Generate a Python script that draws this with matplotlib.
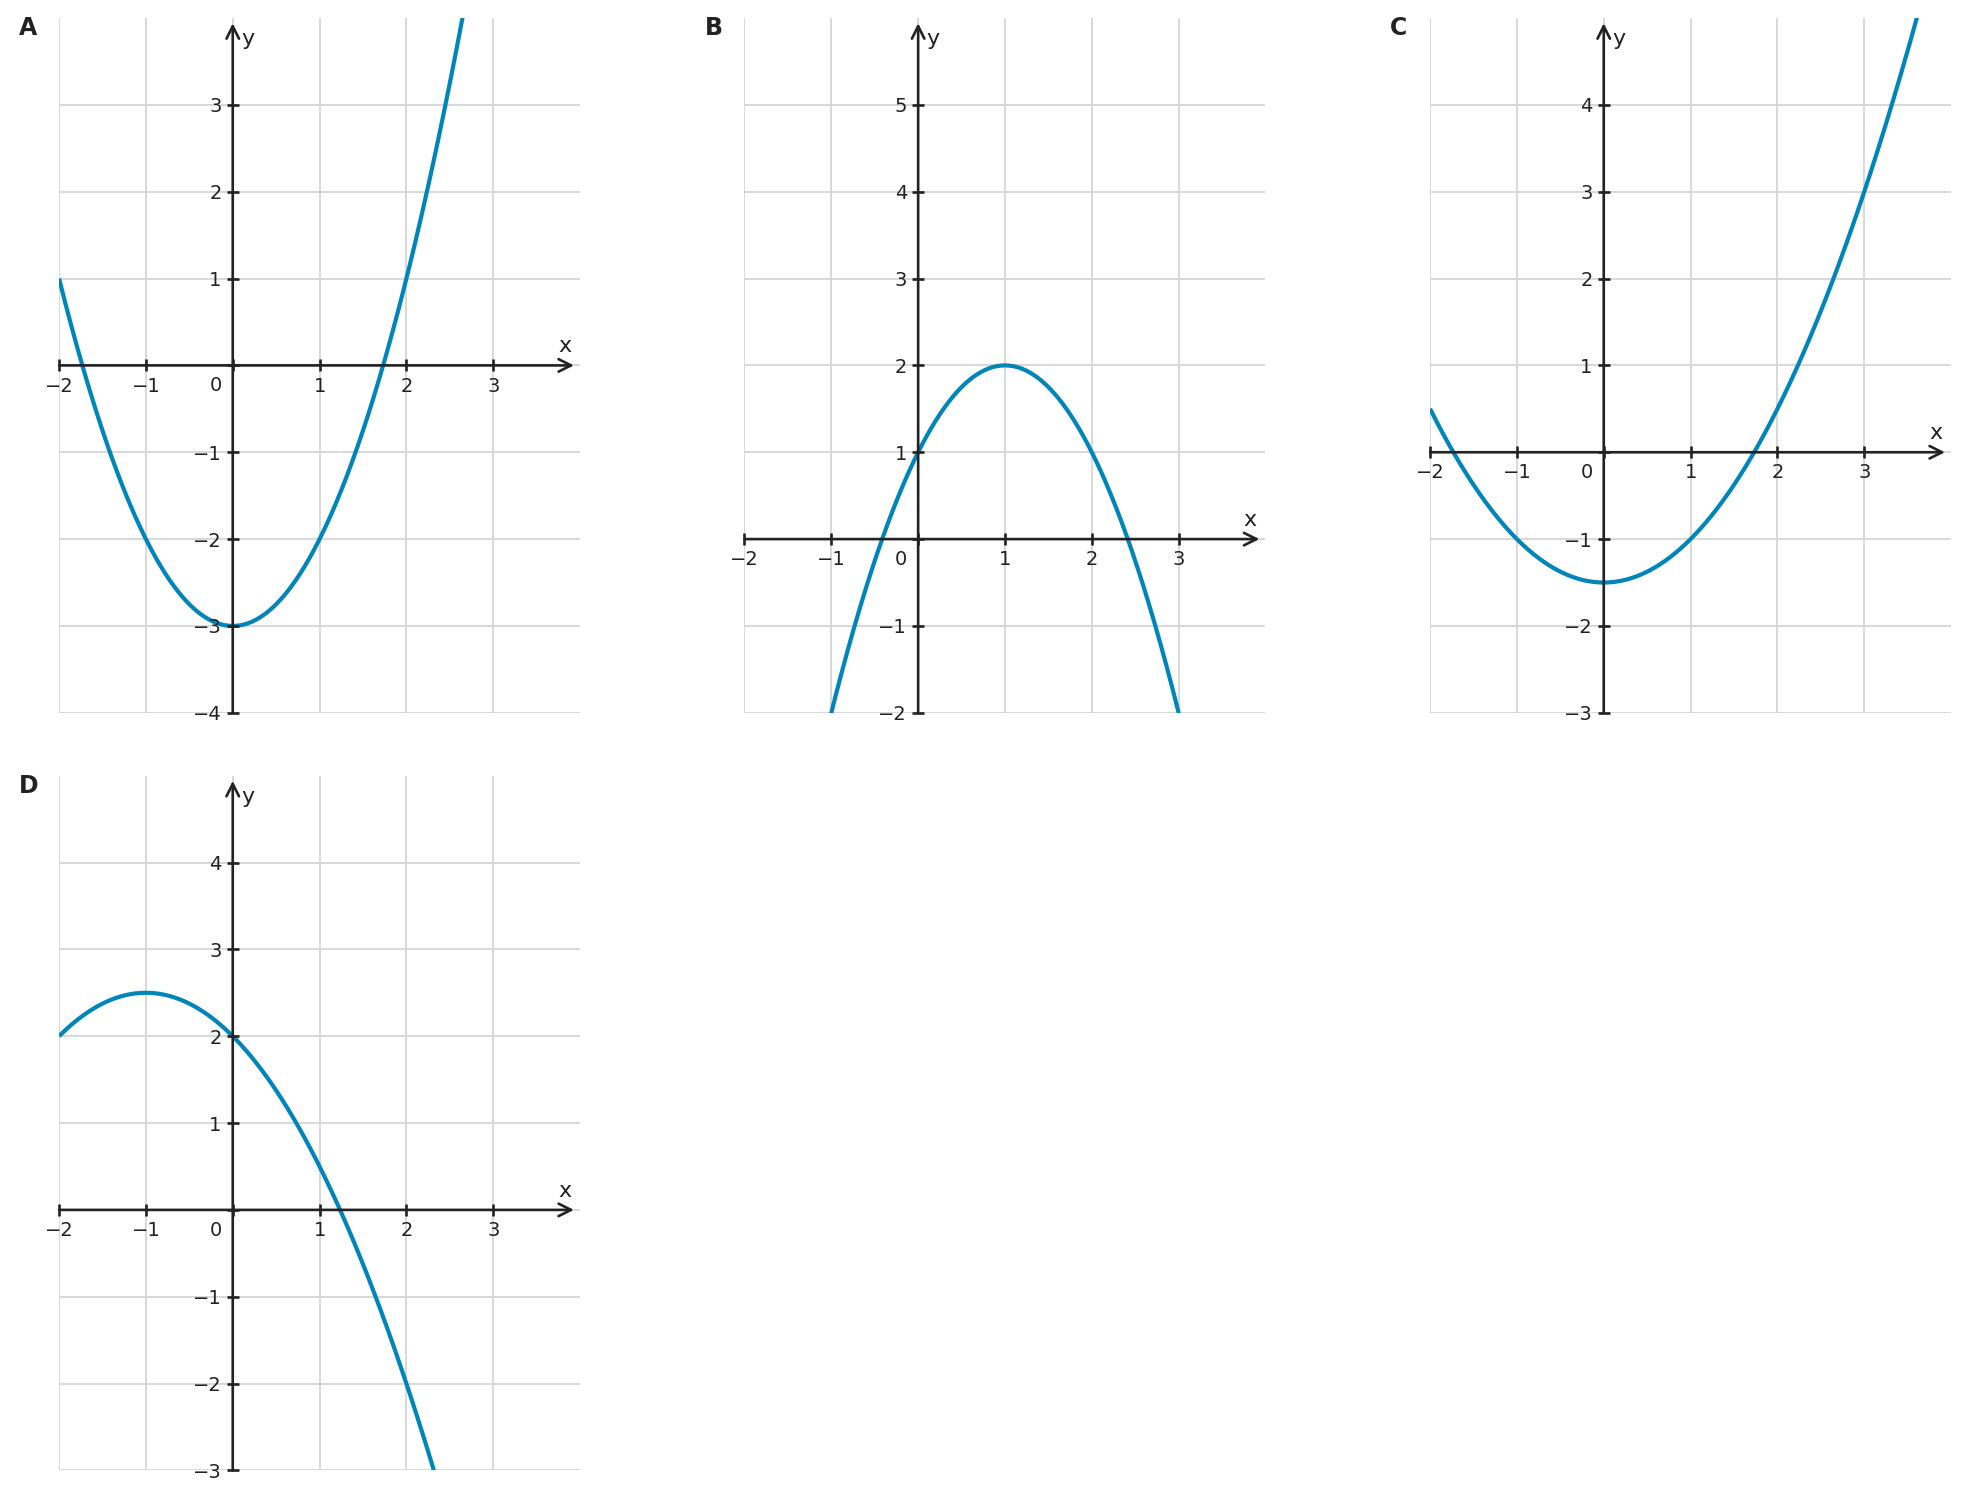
import numpy as np
import matplotlib
matplotlib.use("Agg")
import matplotlib.pyplot as plt

# four parabolas y = a*(x - h)^2 + k, vertex and stretch
panel_names = ["A", "B", "C", "D"]
stretch_a = [1.0, -1.0, 0.5, -0.5]
vertex_h = [0.0, 1.0, 0.0, -1.0]
vertex_k = [-3.0, 2.0, -1.5, 2.5]

# visible window of each panel
x_lo, x_hi = -2, 4
y_lo = [-4, -2, -3, -3]
y_hi = [4, 6, 5, 5]

x_tick_vals = [-2, -1, 0, 1, 2, 3]

curve_color = "#0085ba"
ink = "#222222"
grid_color = "#d6d6d6"

fig = plt.figure(figsize=(19.69, 15), dpi=100)

# axes boxes in figure fractions: left, bottom, width, height
boxes = [
    [0.0300, 0.5248, 0.2646, 0.4632],
    [0.3781, 0.5248, 0.2646, 0.4632],
    [0.7263, 0.5248, 0.2646, 0.4632],
    [0.0300, 0.0197, 0.2646, 0.4632],
]


def fmt(v):
    return str(v).replace("-", "\u2212")


for i, name in enumerate(panel_names):
    ax = fig.add_axes(boxes[i])
    ax.set_xlim(x_lo, x_hi)
    ax.set_ylim(y_lo[i], y_hi[i])

    y_tick_vals = list(range(y_lo[i], y_hi[i]))

    # light grid
    ax.vlines(x_tick_vals, y_lo[i], y_hi[i], color=grid_color, lw=1.3, zorder=0.5)
    ax.hlines(y_tick_vals, x_lo, x_hi, color=grid_color, lw=1.3, zorder=0.5)

    # the parabola
    xs = np.linspace(x_lo, x_hi, 600)
    ys = stretch_a[i] * (xs - vertex_h[i]) ** 2 + vertex_k[i]
    ax.plot(xs, ys, color=curve_color, lw=3.0, zorder=2, solid_capstyle="butt")

    # axes through the origin
    for s in ["top", "right", "left", "bottom"]:
        ax.spines[s].set_visible(False)
    ax.spines["left"].set_position(("data", 0))
    ax.spines["bottom"].set_position(("data", 0))

    arrow = dict(arrowstyle="->,head_length=0.9,head_width=0.45", lw=1.9,
                 color=ink, shrinkA=0, shrinkB=0, mutation_scale=10)
    ax.annotate("", xy=(x_hi - 0.07, 0), xytext=(x_lo, 0), arrowprops=arrow, zorder=3)
    ax.annotate("", xy=(0, y_hi[i] - 0.06), xytext=(0, y_lo[i]), arrowprops=arrow, zorder=3)

    ax.set_xticks(x_tick_vals)
    ax.set_xticklabels(["" if v == 0 else fmt(v) for v in x_tick_vals])
    ax.set_yticks(y_tick_vals)
    ax.set_yticklabels(["" if v == 0 else fmt(v) for v in y_tick_vals])
    ax.set_axisbelow(False)
    ax.tick_params(axis="both", direction="inout", length=8, width=1.9,
                   color=ink, labelcolor=ink, labelsize=14)
    ax.tick_params(axis="x", pad=4)
    ax.tick_params(axis="y", pad=4)

    # origin label
    ax.annotate("0", xy=(0, 0), xytext=(-17, -11), textcoords="offset pixels",
                ha="center", va="top", fontsize=14, color=ink)

    # axis names
    ax.text(x_hi - 0.18, 0.15, "x", ha="center", va="baseline", fontsize=16, color=ink)
    ax.text(0.1, y_hi[i] - 0.31, "y", ha="left", va="baseline", fontsize=16, color=ink)

    # panel letter
    ax.text(-0.0768, 0.9755, name, transform=ax.transAxes, ha="left", va="baseline",
            fontsize=17, fontweight="bold", color=ink)

fig.savefig("out.png", dpi=100)
